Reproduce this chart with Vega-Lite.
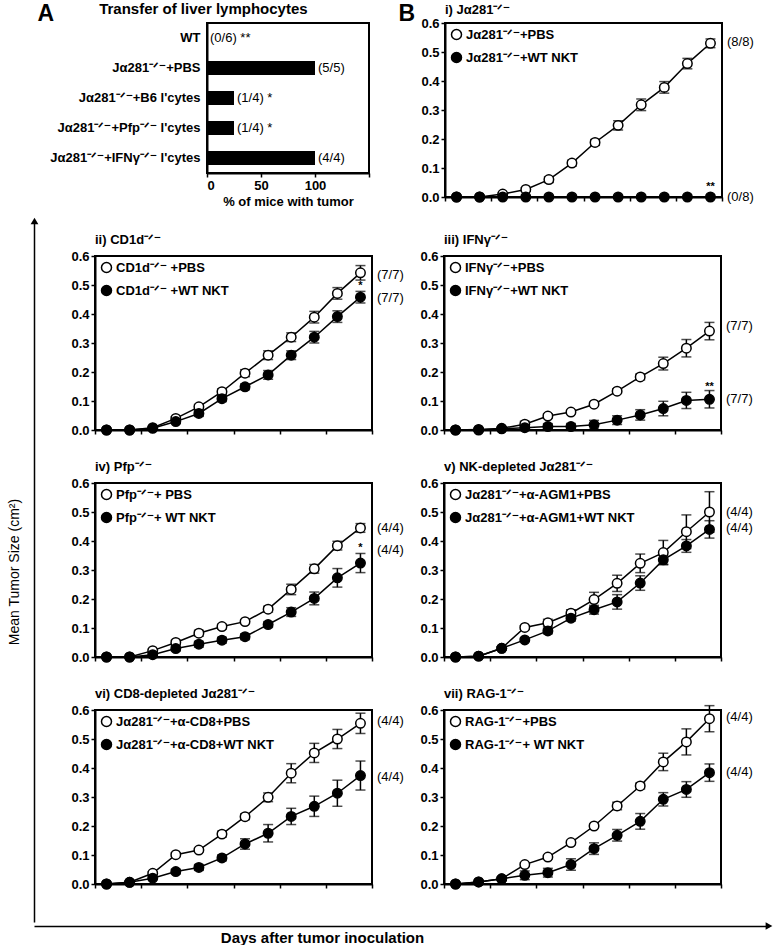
{
"$schema": "https://vega.github.io/schema/vega-lite/v6.json",
"padding": {"left": 7, "top": 1, "right": 0, "bottom": 0},
"config": {
 "font": "Liberation Sans",
 "view": {"stroke": "black", "strokeWidth": 2},
 "axis": {"domainColor": "black", "domainWidth": 2, "tickColor": "black", "tickWidth": 1.5, "tickSize": 4, "labelColor": "black", "labelFontSize": 13, "labelFontWeight": "bold", "labelFont": "Liberation Sans", "labelPadding": 2, "labelOverlap": false, "grid": false, "titleColor": "black", "titleFont": "Liberation Sans"},
 "axisY": {"tickCount": 7},
 "title": {"anchor": "start", "frame": "group", "fontSize": 13, "fontWeight": "bold", "color": "black", "offset": 3, "font": "Liberation Sans"},
 "legend": {"orient": "top-left", "offset": 5, "padding": 0, "labelFontSize": 13, "labelFontWeight": "bold", "labelFont": "Liberation Sans", "labelColor": "black", "labelLimit": 300, "symbolType": "circle", "symbolSize": 100, "symbolStrokeColor": "black", "symbolStrokeWidth": 1.5, "rowPadding": 6, "labelOffset": 3},
 "text": {"font": "Liberation Sans", "color": "black"}
},
"datasets": {
 "i": [
  {"d":2,"s":0,"e":0,"g":"PBS"},{"d":4,"s":0,"e":0,"g":"PBS"},{"d":6,"s":0.01,"e":0.004,"g":"PBS"},{"d":8,"s":0.026,"e":0.006,"g":"PBS"},{"d":10,"s":0.06,"e":0.01,"g":"PBS"},{"d":12,"s":0.117,"e":0.01,"g":"PBS"},{"d":14,"s":0.188,"e":0.01,"g":"PBS"},{"d":16,"s":0.247,"e":0.016,"g":"PBS"},{"d":18,"s":0.318,"e":0.02,"g":"PBS"},{"d":20,"s":0.378,"e":0.02,"g":"PBS"},{"d":22,"s":0.46,"e":0.018,"g":"PBS"},{"d":24,"s":0.53,"e":0.015,"g":"PBS"},
  {"d":2,"s":0,"e":0,"g":"NKT"},{"d":4,"s":0,"e":0,"g":"NKT"},{"d":6,"s":0,"e":0,"g":"NKT"},{"d":8,"s":0,"e":0,"g":"NKT"},{"d":10,"s":0,"e":0,"g":"NKT"},{"d":12,"s":0,"e":0,"g":"NKT"},{"d":14,"s":0,"e":0,"g":"NKT"},{"d":16,"s":0,"e":0,"g":"NKT"},{"d":18,"s":0,"e":0,"g":"NKT"},{"d":20,"s":0,"e":0,"g":"NKT"},{"d":22,"s":0,"e":0,"g":"NKT"},{"d":24,"s":0,"e":0,"g":"NKT"}
 ],
 "ii": [
  {"d":2,"s":0,"e":0,"g":"PBS"},{"d":4,"s":0,"e":0,"g":"PBS"},{"d":6,"s":0.008,"e":0.003,"g":"PBS"},{"d":8,"s":0.04,"e":0.006,"g":"PBS"},{"d":10,"s":0.08,"e":0.008,"g":"PBS"},{"d":12,"s":0.132,"e":0.01,"g":"PBS"},{"d":14,"s":0.196,"e":0.012,"g":"PBS"},{"d":16,"s":0.258,"e":0.015,"g":"PBS"},{"d":18,"s":0.32,"e":0.015,"g":"PBS"},{"d":20,"s":0.389,"e":0.02,"g":"PBS"},{"d":22,"s":0.471,"e":0.02,"g":"PBS"},{"d":24,"s":0.542,"e":0.025,"g":"PBS"},
  {"d":2,"s":0,"e":0,"g":"NKT"},{"d":4,"s":0,"e":0,"g":"NKT"},{"d":6,"s":0.006,"e":0.003,"g":"NKT"},{"d":8,"s":0.029,"e":0.006,"g":"NKT"},{"d":10,"s":0.057,"e":0.01,"g":"NKT"},{"d":12,"s":0.108,"e":0.01,"g":"NKT"},{"d":14,"s":0.149,"e":0.01,"g":"NKT"},{"d":16,"s":0.19,"e":0.015,"g":"NKT"},{"d":18,"s":0.258,"e":0.015,"g":"NKT"},{"d":20,"s":0.32,"e":0.02,"g":"NKT"},{"d":22,"s":0.391,"e":0.02,"g":"NKT"},{"d":24,"s":0.458,"e":0.02,"g":"NKT"}
 ],
 "iii": [
  {"d":2,"s":0,"e":0,"g":"PBS"},{"d":4,"s":0,"e":0,"g":"PBS"},{"d":6,"s":0.006,"e":0.003,"g":"PBS"},{"d":8,"s":0.02,"e":0.01,"g":"PBS"},{"d":10,"s":0.048,"e":0.008,"g":"PBS"},{"d":12,"s":0.062,"e":0.006,"g":"PBS"},{"d":14,"s":0.089,"e":0.006,"g":"PBS"},{"d":16,"s":0.134,"e":0.008,"g":"PBS"},{"d":18,"s":0.183,"e":0.01,"g":"PBS"},{"d":20,"s":0.229,"e":0.022,"g":"PBS"},{"d":22,"s":0.282,"e":0.03,"g":"PBS"},{"d":24,"s":0.341,"e":0.03,"g":"PBS"},
  {"d":2,"s":0,"e":0,"g":"NKT"},{"d":4,"s":0.002,"e":0,"g":"NKT"},{"d":6,"s":0.004,"e":0.003,"g":"NKT"},{"d":8,"s":0.008,"e":0.006,"g":"NKT"},{"d":10,"s":0.012,"e":0.01,"g":"NKT"},{"d":12,"s":0.012,"e":0.01,"g":"NKT"},{"d":14,"s":0.018,"e":0.015,"g":"NKT"},{"d":16,"s":0.034,"e":0.015,"g":"NKT"},{"d":18,"s":0.052,"e":0.018,"g":"NKT"},{"d":20,"s":0.074,"e":0.025,"g":"NKT"},{"d":22,"s":0.102,"e":0.028,"g":"NKT"},{"d":24,"s":0.106,"e":0.03,"g":"NKT"}
 ],
 "iv": [
  {"d":2,"s":0,"e":0,"g":"PBS"},{"d":4,"s":0,"e":0,"g":"PBS"},{"d":6,"s":0.022,"e":0.004,"g":"PBS"},{"d":8,"s":0.05,"e":0.008,"g":"PBS"},{"d":10,"s":0.082,"e":0.01,"g":"PBS"},{"d":12,"s":0.105,"e":0.008,"g":"PBS"},{"d":14,"s":0.122,"e":0.006,"g":"PBS"},{"d":16,"s":0.165,"e":0.01,"g":"PBS"},{"d":18,"s":0.233,"e":0.018,"g":"PBS"},{"d":20,"s":0.304,"e":0.015,"g":"PBS"},{"d":22,"s":0.384,"e":0.015,"g":"PBS"},{"d":24,"s":0.445,"e":0.015,"g":"PBS"},
  {"d":2,"s":0,"e":0,"g":"NKT"},{"d":4,"s":0,"e":0,"g":"NKT"},{"d":6,"s":0.008,"e":0.004,"g":"NKT"},{"d":8,"s":0.029,"e":0.008,"g":"NKT"},{"d":10,"s":0.044,"e":0.01,"g":"NKT"},{"d":12,"s":0.058,"e":0.01,"g":"NKT"},{"d":14,"s":0.07,"e":0.01,"g":"NKT"},{"d":16,"s":0.112,"e":0.01,"g":"NKT"},{"d":18,"s":0.155,"e":0.015,"g":"NKT"},{"d":20,"s":0.202,"e":0.022,"g":"NKT"},{"d":22,"s":0.273,"e":0.032,"g":"NKT"},{"d":24,"s":0.324,"e":0.033,"g":"NKT"}
 ],
 "v": [
  {"d":2,"s":0,"e":0,"g":"PBS"},{"d":4,"s":0.003,"e":0,"g":"PBS"},{"d":6,"s":0.03,"e":0.005,"g":"PBS"},{"d":8,"s":0.102,"e":0.006,"g":"PBS"},{"d":10,"s":0.118,"e":0.012,"g":"PBS"},{"d":12,"s":0.151,"e":0.012,"g":"PBS"},{"d":14,"s":0.198,"e":0.025,"g":"PBS"},{"d":16,"s":0.254,"e":0.028,"g":"PBS"},{"d":18,"s":0.323,"e":0.032,"g":"PBS"},{"d":20,"s":0.36,"e":0.042,"g":"PBS"},{"d":22,"s":0.432,"e":0.058,"g":"PBS"},{"d":24,"s":0.5,"e":0.07,"g":"PBS"},
  {"d":2,"s":0,"e":0,"g":"NKT"},{"d":4,"s":0.003,"e":0,"g":"NKT"},{"d":6,"s":0.03,"e":0.005,"g":"NKT"},{"d":8,"s":0.059,"e":0.005,"g":"NKT"},{"d":10,"s":0.09,"e":0.01,"g":"NKT"},{"d":12,"s":0.134,"e":0.01,"g":"NKT"},{"d":14,"s":0.163,"e":0.015,"g":"NKT"},{"d":16,"s":0.19,"e":0.025,"g":"NKT"},{"d":18,"s":0.255,"e":0.025,"g":"NKT"},{"d":20,"s":0.335,"e":0.015,"g":"NKT"},{"d":22,"s":0.383,"e":0.022,"g":"NKT"},{"d":24,"s":0.44,"e":0.03,"g":"NKT"}
 ],
 "vi": [
  {"d":2,"s":0,"e":0,"g":"PBS"},{"d":4,"s":0.006,"e":0,"g":"PBS"},{"d":6,"s":0.037,"e":0.005,"g":"PBS"},{"d":8,"s":0.101,"e":0.006,"g":"PBS"},{"d":10,"s":0.117,"e":0.006,"g":"PBS"},{"d":12,"s":0.172,"e":0.01,"g":"PBS"},{"d":14,"s":0.232,"e":0.01,"g":"PBS"},{"d":16,"s":0.299,"e":0.015,"g":"PBS"},{"d":18,"s":0.382,"e":0.033,"g":"PBS"},{"d":20,"s":0.452,"e":0.033,"g":"PBS"},{"d":22,"s":0.5,"e":0.033,"g":"PBS"},{"d":24,"s":0.554,"e":0.035,"g":"PBS"},
  {"d":2,"s":0,"e":0,"g":"NKT"},{"d":4,"s":0.006,"e":0,"g":"NKT"},{"d":6,"s":0.02,"e":0.005,"g":"NKT"},{"d":8,"s":0.043,"e":0.008,"g":"NKT"},{"d":10,"s":0.057,"e":0.01,"g":"NKT"},{"d":12,"s":0.09,"e":0.01,"g":"NKT"},{"d":14,"s":0.138,"e":0.018,"g":"NKT"},{"d":16,"s":0.175,"e":0.03,"g":"NKT"},{"d":18,"s":0.233,"e":0.028,"g":"NKT"},{"d":20,"s":0.268,"e":0.035,"g":"NKT"},{"d":22,"s":0.313,"e":0.045,"g":"NKT"},{"d":24,"s":0.374,"e":0.05,"g":"NKT"}
 ],
 "vii": [
  {"d":2,"s":0,"e":0,"g":"PBS"},{"d":4,"s":0.007,"e":0,"g":"PBS"},{"d":6,"s":0.018,"e":0.005,"g":"PBS"},{"d":8,"s":0.067,"e":0.006,"g":"PBS"},{"d":10,"s":0.093,"e":0.006,"g":"PBS"},{"d":12,"s":0.143,"e":0.007,"g":"PBS"},{"d":14,"s":0.2,"e":0.006,"g":"PBS"},{"d":16,"s":0.269,"e":0.013,"g":"PBS"},{"d":18,"s":0.338,"e":0.01,"g":"PBS"},{"d":20,"s":0.421,"e":0.03,"g":"PBS"},{"d":22,"s":0.49,"e":0.045,"g":"PBS"},{"d":24,"s":0.57,"e":0.045,"g":"PBS"},
  {"d":2,"s":0,"e":0,"g":"NKT"},{"d":4,"s":0.007,"e":0,"g":"NKT"},{"d":6,"s":0.018,"e":0.005,"g":"NKT"},{"d":8,"s":0.03,"e":0.015,"g":"NKT"},{"d":10,"s":0.039,"e":0.015,"g":"NKT"},{"d":12,"s":0.067,"e":0.02,"g":"NKT"},{"d":14,"s":0.122,"e":0.02,"g":"NKT"},{"d":16,"s":0.168,"e":0.02,"g":"NKT"},{"d":18,"s":0.216,"e":0.027,"g":"NKT"},{"d":20,"s":0.292,"e":0.023,"g":"NKT"},{"d":22,"s":0.326,"e":0.027,"g":"NKT"},{"d":24,"s":0.384,"e":0.03,"g":"NKT"}
 ]
},
"spacing": 0,
"resolve": {"scale": {"fill": "independent"}, "legend": {"fill": "independent"}},
"vconcat": [
 {
  "spacing": 1,
  "resolve": {"scale": {"fill": "independent"}, "legend": {"fill": "independent"}},
  "hconcat": [
   {"width": 1, "height": 1, "view": {"stroke": null}, "data": {"values": []}, "mark": "point", "encoding": {}},
   {
    "spacing": 76, "bounds": "flush",
    "resolve": {"scale": {"fill": "independent"}, "legend": {"fill": "independent"}},
    "hconcat": [
     {
      "width": 162, "height": 150,
      "title": {"text": "Transfer of liver lymphocytes", "anchor": "middle", "frame": "bounds", "offset": -15, "fontSize": 15},
      "data": {"values": [
        {"grp": "WT", "pct": 0, "lab": "(0/6) **"},
        {"grp": "Jα281⁻ᐟ⁻+PBS", "pct": 100, "lab": "(5/5)"},
        {"grp": "Jα281⁻ᐟ⁻+B6 l'cytes", "pct": 25, "lab": "(1/4) *"},
        {"grp": "Jα281⁻ᐟ⁻+Pfp⁻ᐟ⁻ l'cytes", "pct": 25, "lab": "(1/4) *"},
        {"grp": "Jα281⁻ᐟ⁻+IFNγ⁻ᐟ⁻ l'cytes", "pct": 100, "lab": "(4/4)"}
      ]},
      "layer": [
       {"mark": {"type": "bar", "color": "black", "size": 14},
        "encoding": {
         "y": {"field": "grp", "type": "nominal", "sort": null, "scale": {"paddingInner": 0, "paddingOuter": 0},
               "axis": {"title": "A", "titleAngle": 0, "titleFontSize": 23, "titleFontWeight": "bold", "titleX": -170, "titleY": -3, "titleAlign": "left", "titleBaseline": "alphabetic", "ticks": false, "labelPadding": 7, "labelFontSize": 13}},
         "x": {"field": "pct", "type": "quantitative", "scale": {"domain": [0, 150], "nice": false},
               "axis": {"values": [0, 25, 50, 75, 100, 125, 150], "labelExpr": "(datum.value == 0 || datum.value == 50 || datum.value == 100) ? datum.label : ''", "title": "% of mice with tumor", "titleFontSize": 13, "titleFontWeight": "bold", "titlePadding": 3}}
        }},
       {"mark": {"type": "text", "align": "left", "baseline": "middle", "dx": 3, "fontSize": 13},
        "encoding": {"y": {"field": "grp", "type": "nominal", "sort": null}, "x": {"field": "pct", "type": "quantitative"}, "text": {"field": "lab"}}}
      ]
     },
     {
      "width": 277, "height": 174,
      "title": {"text": "i) Jα281⁻ᐟ⁻", "offset": -15},
      "data": {"name": "i"},
      "layer": [
       {"mark": {"type": "line", "color": "black", "strokeWidth": 1.5},
        "encoding": {
         "x": {"field": "d", "type": "quantitative", "scale": {"domain": [1, 25], "nice": false, "zero": false}, "axis": {"values": [1,2,3,4,5,6,7,8,9,10,11,12,13,14,15,16,17,18,19,20,21,22,23,24,25], "labelExpr": "datum.value % 2 == 0 ? datum.label : ''", "title": null}},
         "y": {"field": "s", "type": "quantitative", "title": "B", "scale": {"domain": [0, 0.6], "nice": false}, "axis": {"values": [0,0.1,0.2,0.3,0.4,0.5,0.6], "tickCount": 7, "format": ".1f", "title": "B", "titleAngle": 0, "titleFontSize": 23, "titleFontWeight": "bold", "titleX": -47, "titleY": -3, "titleAlign": "left", "titleBaseline": "alphabetic"}},
         "detail": {"field": "g"}}},
       {"mark": {"type": "errorbar", "ticks": true, "size": 10, "thickness": 1.5, "color": "black"},
        "encoding": {"x": {"field": "d", "type": "quantitative", "title": null}, "y": {"field": "s", "type": "quantitative", "title": "B", "axis": {"values": [0,0.1,0.2,0.3,0.4,0.5,0.6], "tickCount": 7, "format": ".1f", "title": "B", "titleAngle": 0, "titleFontSize": 23, "titleFontWeight": "bold", "titleX": -47, "titleY": -3, "titleAlign": "left", "titleBaseline": "alphabetic"}}, "yError": {"field": "e"}}},
       {"mark": {"type": "point", "filled": true, "size": 90, "stroke": "black", "strokeWidth": 1.5, "opacity": 1},
        "encoding": {"x": {"field": "d", "type": "quantitative", "title": null}, "y": {"field": "s", "type": "quantitative", "title": "B", "axis": {"values": [0,0.1,0.2,0.3,0.4,0.5,0.6], "tickCount": 7, "format": ".1f", "title": "B", "titleAngle": 0, "titleFontSize": 23, "titleFontWeight": "bold", "titleX": -47, "titleY": -3, "titleAlign": "left", "titleBaseline": "alphabetic"}},
         "fill": {"field": "g", "type": "nominal", "scale": {"domain": ["PBS", "NKT"], "range": ["white", "black"]}, "legend": {"title": null, "labelExpr": "datum.label == 'PBS' ? 'Jα281⁻ᐟ⁻+PBS' : 'Jα281⁻ᐟ⁻+WT NKT'"}}}},
       {"data": {"values": [{"d": 25, "s": 0.534, "t": "(8/8)"}, {"d": 25, "s": 0, "t": "(0/8)"}]},
        "mark": {"type": "text", "align": "left", "baseline": "middle", "dx": 5, "fontSize": 13},
        "encoding": {"x": {"field": "d", "type": "quantitative", "title": null}, "y": {"field": "s", "type": "quantitative", "title": "B"}, "text": {"field": "t"}}},
       {"data": {"values": [{"d": 24, "s": 0.035, "t": "**"}]},
        "mark": {"type": "text", "align": "center", "baseline": "middle", "fontSize": 11, "fontWeight": "bold"},
        "encoding": {"x": {"field": "d", "type": "quantitative", "title": null}, "y": {"field": "s", "type": "quantitative", "title": "B"}, "text": {"field": "t"}}}
      ]
     }
    ]
   }
  ]
 },
 {
  "spacing": 0,
  "resolve": {"scale": {"fill": "independent"}, "legend": {"fill": "independent"}},
  "vconcat": [
   {
    "spacing": 30,
    "resolve": {"scale": {"fill": "independent"}, "legend": {"fill": "independent"}},
    "hconcat": [
     {"width": 1, "height": 701, "view": {"stroke": null},
      "data": {"values": [{"tip": 1}]},
      "mark": {"type": "point", "shape": "triangle-up", "filled": true, "color": "black", "size": 60, "opacity": 1},
      "encoding": {"y": {"field": "tip", "type": "quantitative", "scale": {"domain": [0, 1], "nice": false},
        "axis": {"title": "Mean Tumor Size (cm²)", "labels": false, "ticks": false, "domainWidth": 1.5, "titleFontSize": 14, "titleFontWeight": "normal", "titlePadding": 13}}}},
     {
      "spacing": 11,
      "resolve": {"scale": {"fill": "independent"}, "legend": {"fill": "independent"}},
      "vconcat": [
       {"width": 1, "height": 1, "view": {"stroke": null}, "data": {"values": []}, "mark": "point", "encoding": {}},
       {
        "columns": 2, "spacing": {"row": 53, "column": 72}, "bounds": "flush",
        "resolve": {"scale": {"fill": "independent"}, "legend": {"fill": "independent"}},
        "concat": [
         {
          "width": 277, "height": 174, "title": {"text": "ii) CD1d⁻ᐟ⁻"}, "data": {"name": "ii"},
          "layer": [
           {"mark": {"type": "line", "color": "black", "strokeWidth": 1.5},
            "encoding": {
             "x": {"field": "d", "type": "quantitative", "scale": {"domain": [1, 25], "nice": false, "zero": false}, "axis": {"values": [1,2,3,4,5,6,7,8,9,10,11,12,13,14,15,16,17,18,19,20,21,22,23,24,25], "labelExpr": "datum.value % 2 == 0 ? datum.label : ''", "title": null}},
             "y": {"field": "s", "type": "quantitative", "scale": {"domain": [0, 0.6], "nice": false}, "axis": {"values": [0,0.1,0.2,0.3,0.4,0.5,0.6], "tickCount": 7, "format": ".1f", "title": null}},
             "detail": {"field": "g"}}},
           {"mark": {"type": "errorbar", "ticks": true, "size": 10, "thickness": 1.5, "color": "black"},
            "encoding": {"x": {"field": "d", "type": "quantitative"}, "y": {"field": "s", "type": "quantitative", "axis": {"values": [0,0.1,0.2,0.3,0.4,0.5,0.6], "tickCount": 7, "format": ".1f", "title": null}}, "yError": {"field": "e"}}},
           {"mark": {"type": "point", "filled": true, "size": 90, "stroke": "black", "strokeWidth": 1.5, "opacity": 1},
            "encoding": {"x": {"field": "d", "type": "quantitative"}, "y": {"field": "s", "type": "quantitative", "axis": {"values": [0,0.1,0.2,0.3,0.4,0.5,0.6], "tickCount": 7, "format": ".1f", "title": null}},
             "fill": {"field": "g", "type": "nominal", "scale": {"domain": ["PBS", "NKT"], "range": ["white", "black"]}, "legend": {"title": null, "labelExpr": "datum.label == 'PBS' ? 'CD1d⁻ᐟ⁻ +PBS' : 'CD1d⁻ᐟ⁻ +WT NKT'"}}}},
           {"data": {"values": [{"d": 25, "s": 0.535, "t": "(7/7)"}, {"d": 25, "s": 0.455, "t": "(7/7)"}]},
            "mark": {"type": "text", "align": "left", "baseline": "middle", "dx": 5, "fontSize": 13},
            "encoding": {"x": {"field": "d", "type": "quantitative"}, "y": {"field": "s", "type": "quantitative"}, "text": {"field": "t"}}},
           {"data": {"values": [{"d": 24, "s": 0.495, "t": "*"}]},
            "mark": {"type": "text", "align": "center", "baseline": "middle", "fontSize": 11, "fontWeight": "bold"},
            "encoding": {"x": {"field": "d", "type": "quantitative"}, "y": {"field": "s", "type": "quantitative"}, "text": {"field": "t"}}}
          ]
         },
         {
          "width": 277, "height": 174, "title": {"text": "iii) IFNγ⁻ᐟ⁻"}, "data": {"name": "iii"},
          "layer": [
           {"mark": {"type": "line", "color": "black", "strokeWidth": 1.5},
            "encoding": {
             "x": {"field": "d", "type": "quantitative", "scale": {"domain": [1, 25], "nice": false, "zero": false}, "axis": {"values": [1,2,3,4,5,6,7,8,9,10,11,12,13,14,15,16,17,18,19,20,21,22,23,24,25], "labelExpr": "datum.value % 2 == 0 ? datum.label : ''", "title": null}},
             "y": {"field": "s", "type": "quantitative", "scale": {"domain": [0, 0.6], "nice": false}, "axis": {"values": [0,0.1,0.2,0.3,0.4,0.5,0.6], "tickCount": 7, "format": ".1f", "title": null}},
             "detail": {"field": "g"}}},
           {"mark": {"type": "errorbar", "ticks": true, "size": 10, "thickness": 1.5, "color": "black"},
            "encoding": {"x": {"field": "d", "type": "quantitative"}, "y": {"field": "s", "type": "quantitative", "axis": {"values": [0,0.1,0.2,0.3,0.4,0.5,0.6], "tickCount": 7, "format": ".1f", "title": null}}, "yError": {"field": "e"}}},
           {"mark": {"type": "point", "filled": true, "size": 90, "stroke": "black", "strokeWidth": 1.5, "opacity": 1},
            "encoding": {"x": {"field": "d", "type": "quantitative"}, "y": {"field": "s", "type": "quantitative", "axis": {"values": [0,0.1,0.2,0.3,0.4,0.5,0.6], "tickCount": 7, "format": ".1f", "title": null}},
             "fill": {"field": "g", "type": "nominal", "scale": {"domain": ["PBS", "NKT"], "range": ["white", "black"]}, "legend": {"title": null, "labelExpr": "datum.label == 'PBS' ? 'IFNγ⁻ᐟ⁻+PBS' : 'IFNγ⁻ᐟ⁻+WT NKT'"}}}},
           {"data": {"values": [{"d": 25, "s": 0.36, "t": "(7/7)"}, {"d": 25, "s": 0.107, "t": "(7/7)"}]},
            "mark": {"type": "text", "align": "left", "baseline": "middle", "dx": 5, "fontSize": 13},
            "encoding": {"x": {"field": "d", "type": "quantitative"}, "y": {"field": "s", "type": "quantitative"}, "text": {"field": "t"}}},
           {"data": {"values": [{"d": 24, "s": 0.15, "t": "**"}]},
            "mark": {"type": "text", "align": "center", "baseline": "middle", "fontSize": 11, "fontWeight": "bold"},
            "encoding": {"x": {"field": "d", "type": "quantitative"}, "y": {"field": "s", "type": "quantitative"}, "text": {"field": "t"}}}
          ]
         },
         {
          "width": 277, "height": 174, "title": {"text": "iv) Pfp⁻ᐟ⁻"}, "data": {"name": "iv"},
          "layer": [
           {"mark": {"type": "line", "color": "black", "strokeWidth": 1.5},
            "encoding": {
             "x": {"field": "d", "type": "quantitative", "scale": {"domain": [1, 25], "nice": false, "zero": false}, "axis": {"values": [1,2,3,4,5,6,7,8,9,10,11,12,13,14,15,16,17,18,19,20,21,22,23,24,25], "labelExpr": "datum.value % 2 == 0 ? datum.label : ''", "title": null}},
             "y": {"field": "s", "type": "quantitative", "scale": {"domain": [0, 0.6], "nice": false}, "axis": {"values": [0,0.1,0.2,0.3,0.4,0.5,0.6], "tickCount": 7, "format": ".1f", "title": null}},
             "detail": {"field": "g"}}},
           {"mark": {"type": "errorbar", "ticks": true, "size": 10, "thickness": 1.5, "color": "black"},
            "encoding": {"x": {"field": "d", "type": "quantitative"}, "y": {"field": "s", "type": "quantitative", "axis": {"values": [0,0.1,0.2,0.3,0.4,0.5,0.6], "tickCount": 7, "format": ".1f", "title": null}}, "yError": {"field": "e"}}},
           {"mark": {"type": "point", "filled": true, "size": 90, "stroke": "black", "strokeWidth": 1.5, "opacity": 1},
            "encoding": {"x": {"field": "d", "type": "quantitative"}, "y": {"field": "s", "type": "quantitative", "axis": {"values": [0,0.1,0.2,0.3,0.4,0.5,0.6], "tickCount": 7, "format": ".1f", "title": null}},
             "fill": {"field": "g", "type": "nominal", "scale": {"domain": ["PBS", "NKT"], "range": ["white", "black"]}, "legend": {"title": null, "labelExpr": "datum.label == 'PBS' ? 'Pfp⁻ᐟ⁻+ PBS' : 'Pfp⁻ᐟ⁻+ WT NKT'"}}}},
           {"data": {"values": [{"d": 25, "s": 0.445, "t": "(4/4)"}, {"d": 25, "s": 0.37, "t": "(4/4)"}]},
            "mark": {"type": "text", "align": "left", "baseline": "middle", "dx": 5, "fontSize": 13},
            "encoding": {"x": {"field": "d", "type": "quantitative"}, "y": {"field": "s", "type": "quantitative"}, "text": {"field": "t"}}},
           {"data": {"values": [{"d": 24, "s": 0.375, "t": "*"}]},
            "mark": {"type": "text", "align": "center", "baseline": "middle", "fontSize": 11, "fontWeight": "bold"},
            "encoding": {"x": {"field": "d", "type": "quantitative"}, "y": {"field": "s", "type": "quantitative"}, "text": {"field": "t"}}}
          ]
         },
         {
          "width": 277, "height": 174, "title": {"text": "v) NK-depleted Jα281⁻ᐟ⁻"}, "data": {"name": "v"},
          "layer": [
           {"mark": {"type": "line", "color": "black", "strokeWidth": 1.5},
            "encoding": {
             "x": {"field": "d", "type": "quantitative", "scale": {"domain": [1, 25], "nice": false, "zero": false}, "axis": {"values": [1,2,3,4,5,6,7,8,9,10,11,12,13,14,15,16,17,18,19,20,21,22,23,24,25], "labelExpr": "datum.value % 2 == 0 ? datum.label : ''", "title": null}},
             "y": {"field": "s", "type": "quantitative", "scale": {"domain": [0, 0.6], "nice": false}, "axis": {"values": [0,0.1,0.2,0.3,0.4,0.5,0.6], "tickCount": 7, "format": ".1f", "title": null}},
             "detail": {"field": "g"}}},
           {"mark": {"type": "errorbar", "ticks": true, "size": 10, "thickness": 1.5, "color": "black"},
            "encoding": {"x": {"field": "d", "type": "quantitative"}, "y": {"field": "s", "type": "quantitative", "axis": {"values": [0,0.1,0.2,0.3,0.4,0.5,0.6], "tickCount": 7, "format": ".1f", "title": null}}, "yError": {"field": "e"}}},
           {"mark": {"type": "point", "filled": true, "size": 90, "stroke": "black", "strokeWidth": 1.5, "opacity": 1},
            "encoding": {"x": {"field": "d", "type": "quantitative"}, "y": {"field": "s", "type": "quantitative", "axis": {"values": [0,0.1,0.2,0.3,0.4,0.5,0.6], "tickCount": 7, "format": ".1f", "title": null}},
             "fill": {"field": "g", "type": "nominal", "scale": {"domain": ["PBS", "NKT"], "range": ["white", "black"]}, "legend": {"title": null, "labelExpr": "datum.label == 'PBS' ? 'Jα281⁻ᐟ⁻+α-AGM1+PBS' : 'Jα281⁻ᐟ⁻+α-AGM1+WT NKT'"}}}},
           {"data": {"values": [{"d": 25, "s": 0.5, "t": "(4/4)"}, {"d": 25, "s": 0.444, "t": "(4/4)"}]},
            "mark": {"type": "text", "align": "left", "baseline": "middle", "dx": 5, "fontSize": 13},
            "encoding": {"x": {"field": "d", "type": "quantitative"}, "y": {"field": "s", "type": "quantitative"}, "text": {"field": "t"}}}
          ]
         },
         {
          "width": 277, "height": 174, "title": {"text": "vi) CD8-depleted Jα281⁻ᐟ⁻"}, "data": {"name": "vi"},
          "layer": [
           {"mark": {"type": "line", "color": "black", "strokeWidth": 1.5},
            "encoding": {
             "x": {"field": "d", "type": "quantitative", "scale": {"domain": [1, 25], "nice": false, "zero": false}, "axis": {"values": [1,2,3,4,5,6,7,8,9,10,11,12,13,14,15,16,17,18,19,20,21,22,23,24,25], "labelExpr": "datum.value % 2 == 0 ? datum.label : ''", "title": null}},
             "y": {"field": "s", "type": "quantitative", "scale": {"domain": [0, 0.6], "nice": false}, "axis": {"values": [0,0.1,0.2,0.3,0.4,0.5,0.6], "tickCount": 7, "format": ".1f", "title": null}},
             "detail": {"field": "g"}}},
           {"mark": {"type": "errorbar", "ticks": true, "size": 10, "thickness": 1.5, "color": "black"},
            "encoding": {"x": {"field": "d", "type": "quantitative"}, "y": {"field": "s", "type": "quantitative", "axis": {"values": [0,0.1,0.2,0.3,0.4,0.5,0.6], "tickCount": 7, "format": ".1f", "title": null}}, "yError": {"field": "e"}}},
           {"mark": {"type": "point", "filled": true, "size": 90, "stroke": "black", "strokeWidth": 1.5, "opacity": 1},
            "encoding": {"x": {"field": "d", "type": "quantitative"}, "y": {"field": "s", "type": "quantitative", "axis": {"values": [0,0.1,0.2,0.3,0.4,0.5,0.6], "tickCount": 7, "format": ".1f", "title": null}},
             "fill": {"field": "g", "type": "nominal", "scale": {"domain": ["PBS", "NKT"], "range": ["white", "black"]}, "legend": {"title": null, "labelExpr": "datum.label == 'PBS' ? 'Jα281⁻ᐟ⁻+α-CD8+PBS' : 'Jα281⁻ᐟ⁻+α-CD8+WT NKT'"}}}},
           {"data": {"values": [{"d": 25, "s": 0.562, "t": "(4/4)"}, {"d": 25, "s": 0.369, "t": "(4/4)"}]},
            "mark": {"type": "text", "align": "left", "baseline": "middle", "dx": 5, "fontSize": 13},
            "encoding": {"x": {"field": "d", "type": "quantitative"}, "y": {"field": "s", "type": "quantitative"}, "text": {"field": "t"}}}
          ]
         },
         {
          "width": 277, "height": 174, "title": {"text": "vii) RAG-1⁻ᐟ⁻"}, "data": {"name": "vii"},
          "layer": [
           {"mark": {"type": "line", "color": "black", "strokeWidth": 1.5},
            "encoding": {
             "x": {"field": "d", "type": "quantitative", "scale": {"domain": [1, 25], "nice": false, "zero": false}, "axis": {"values": [1,2,3,4,5,6,7,8,9,10,11,12,13,14,15,16,17,18,19,20,21,22,23,24,25], "labelExpr": "datum.value % 2 == 0 ? datum.label : ''", "title": null}},
             "y": {"field": "s", "type": "quantitative", "scale": {"domain": [0, 0.6], "nice": false}, "axis": {"values": [0,0.1,0.2,0.3,0.4,0.5,0.6], "tickCount": 7, "format": ".1f", "title": null}},
             "detail": {"field": "g"}}},
           {"mark": {"type": "errorbar", "ticks": true, "size": 10, "thickness": 1.5, "color": "black"},
            "encoding": {"x": {"field": "d", "type": "quantitative"}, "y": {"field": "s", "type": "quantitative", "axis": {"values": [0,0.1,0.2,0.3,0.4,0.5,0.6], "tickCount": 7, "format": ".1f", "title": null}}, "yError": {"field": "e"}}},
           {"mark": {"type": "point", "filled": true, "size": 90, "stroke": "black", "strokeWidth": 1.5, "opacity": 1},
            "encoding": {"x": {"field": "d", "type": "quantitative"}, "y": {"field": "s", "type": "quantitative", "axis": {"values": [0,0.1,0.2,0.3,0.4,0.5,0.6], "tickCount": 7, "format": ".1f", "title": null}},
             "fill": {"field": "g", "type": "nominal", "scale": {"domain": ["PBS", "NKT"], "range": ["white", "black"]}, "legend": {"title": null, "labelExpr": "datum.label == 'PBS' ? 'RAG-1⁻ᐟ⁻+PBS' : 'RAG-1⁻ᐟ⁻+ WT NKT'"}}}},
           {"data": {"values": [{"d": 25, "s": 0.576, "t": "(4/4)"}, {"d": 25, "s": 0.386, "t": "(4/4)"}]},
            "mark": {"type": "text", "align": "left", "baseline": "middle", "dx": 5, "fontSize": 13},
            "encoding": {"x": {"field": "d", "type": "quantitative"}, "y": {"field": "s", "type": "quantitative"}, "text": {"field": "t"}}}
          ]
         }
        ]
       }
      ]
     }
    ]
   },
   {
    "resolve": {"scale": {"fill": "independent"}, "legend": {"fill": "independent"}},
    "hconcat": [
     {"width": 735, "height": 1, "view": {"stroke": null},
      "data": {"values": [{"tip": 1, "base": 0}]},
      "mark": {"type": "point", "shape": "triangle-right", "filled": true, "color": "black", "size": 60, "opacity": 1},
      "encoding": {
       "x": {"field": "tip", "type": "quantitative", "scale": {"domain": [0, 1], "nice": false},
             "axis": {"title": "Days after tumor inoculation", "labels": false, "ticks": false, "domainWidth": 1.5, "titleFontSize": 15, "titleFontWeight": "bold", "titlePadding": 4, "titleX": 288}},
       "y": {"field": "base", "type": "quantitative", "scale": {"domain": [0, 1], "nice": false},
             "axis": {"title": "I", "titleOpacity": 0, "labels": false, "ticks": false, "domain": false, "titleFontSize": 14, "titlePadding": 13}}
      }}
    ]
   }
  ]
 }
]
}
